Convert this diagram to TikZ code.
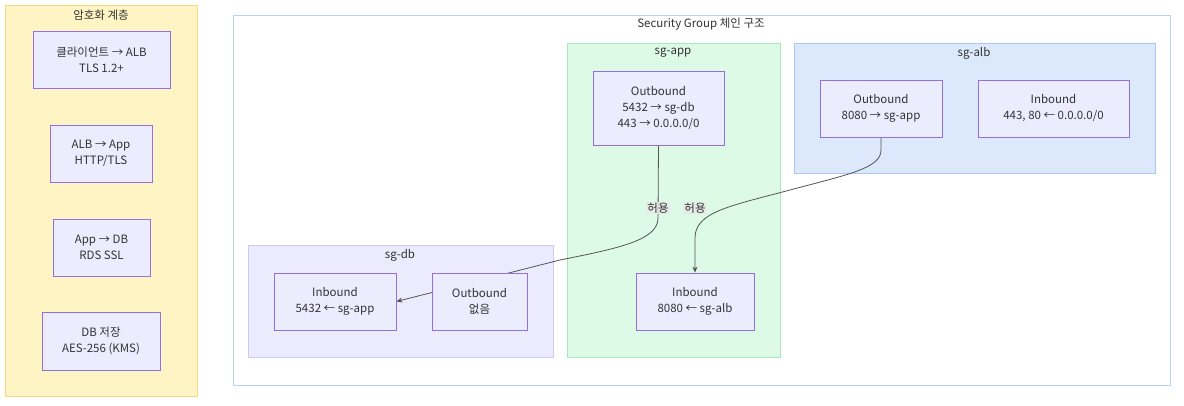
\documentclass[tikz,border=0pt]{standalone}
\usepackage{fontspec}
\setmainfont{Noto Sans CJK KR}
\usetikzlibrary{arrows.meta}
\definecolor{txt}{HTML}{333333}
\definecolor{nfill}{HTML}{ECECFF}
\definecolor{ndraw}{HTML}{9370DB}
\definecolor{yfill}{HTML}{FFF4C4}
\definecolor{ydraw}{HTML}{F5DA80}
\definecolor{gfill}{HTML}{DCFAE6}
\definecolor{gdraw}{HTML}{A8E8BA}
\definecolor{bfill}{HTML}{DCE8FC}
\definecolor{bdraw}{HTML}{A9C8F2}
\definecolor{lfill}{HTML}{ECEAFD}
\definecolor{ldraw}{HTML}{D0C8F4}
\definecolor{odraw}{HTML}{B8D6F0}
\definecolor{edgec}{HTML}{555555}
\definecolor{lblbg}{HTML}{E8E8E8}
\pgfdeclarelayer{bg}
\pgfdeclarelayer{edges}
\pgfsetlayers{bg,edges,main}
\tikzset{
  nbox/.style={draw=ndraw, fill=nfill, line width=0.8pt, align=center, text=txt,
    font=\fontsize{11.5}{16}\selectfont, inner sep=0pt},
  ctitle/.style={text=txt, font=\fontsize{11.5}{14}\selectfont, inner sep=1pt},
  clus/.style={line width=0.8pt},
  conn/.style={draw=edgec, line width=0.8pt},
  arr/.style={-{Stealth[length=6pt,width=5pt]}},
  lbl/.style={fill=lblbg, fill opacity=0.8, text opacity=1, text=txt,
    font=\fontsize{11.5}{14}\selectfont, inner sep=1pt}
}
\begin{document}
\begin{tikzpicture}[x=1pt,y=-1pt]
\useasboundingbox (0,0) rectangle (1184,405);
\begin{pgfonlayer}{bg}
  \fill[white] (0,0) rectangle (1184,405);
  \draw[clus, draw=ydraw, fill=yfill] (5,5) rectangle (197,396);
  \draw[clus, draw=odraw, fill=white] (233,15) rectangle (1170,385);
  \draw[clus, draw=gdraw, fill=gfill] (567,43) rectangle (780,357);
  \draw[clus, draw=bdraw, fill=bfill] (794,43) rectangle (1155,173);
  \draw[clus, draw=ldraw, fill=lfill] (248,245) rectangle (553,357);
\end{pgfonlayer}
\node[ctitle] (tenc) at (101,15) {암호화 계층};
\node[ctitle] (tsg) at (701,24) {Security Group 체인 구조};
\node[ctitle] (tapp) at (673,53) {sg-app};
\node[ctitle] (talb) at (974,53) {sg-alb};
\node[ctitle] (tdb) at (400,255) {sg-db};

\node[nbox, minimum width=137pt, minimum height=57pt] (e1) at (101.5,59.5) {클라이언트 → ALB\\TLS 1.2+};
\node[nbox, minimum width=102pt, minimum height=57pt] (e2) at (101,153.5) {ALB → App\\HTTP/TLS};
\node[nbox, minimum width=97pt, minimum height=57pt] (e3) at (101.5,247.5) {App → DB\\RDS SSL};
\node[nbox, minimum width=118pt, minimum height=58pt] (e4) at (101,341) {DB 저장\\AES-256 (KMS)};

\node[nbox, minimum width=131pt, minimum height=74pt] (appout) at (658.5,108) {Outbound\\5432 → sg-db\\443 → 0.0.0.0/0};
\node[nbox, minimum width=118pt, minimum height=57pt] (appin) at (695,301.5) {Inbound\\8080 ← sg-alb};
\node[nbox, minimum width=122pt, minimum height=57pt] (albout) at (881,108.5) {Outbound\\8080 → sg-app};
\node[nbox, minimum width=151pt, minimum height=57pt] (albin) at (1053.5,108.5) {Inbound\\443, 80 ← 0.0.0.0/0};
\node[nbox, minimum width=122pt, minimum height=57pt] (dbin) at (335,301.5) {Inbound\\5432 ← sg-app};
\node[nbox, minimum width=95pt, minimum height=57pt] (dbout) at (479.5,301.5) {Outbound\\없음};

\coordinate (c1) at (658,218);
\coordinate (c2) at (560,260);
\coordinate (c3) at (881,150);
\coordinate (c4) at (790,190);
\coordinate (c5) at (695,238);
\begin{pgfonlayer}{edges}
  \draw[conn, arr] (appout.south) -- (c1) .. controls (658,240) and (620,248) .. (c2) -- (dbin.east);
  \draw[conn, arr] (albout.south) -- (c3) .. controls (881,168) and (850,174) .. (c4) .. controls (730,206) and (695,212) .. (c5) -- (appin.north);
\end{pgfonlayer}
\node[lbl] (l1) at (658,208) {허용};
\node[lbl] (l2) at (695,208) {허용};
\end{tikzpicture}
\end{document}
